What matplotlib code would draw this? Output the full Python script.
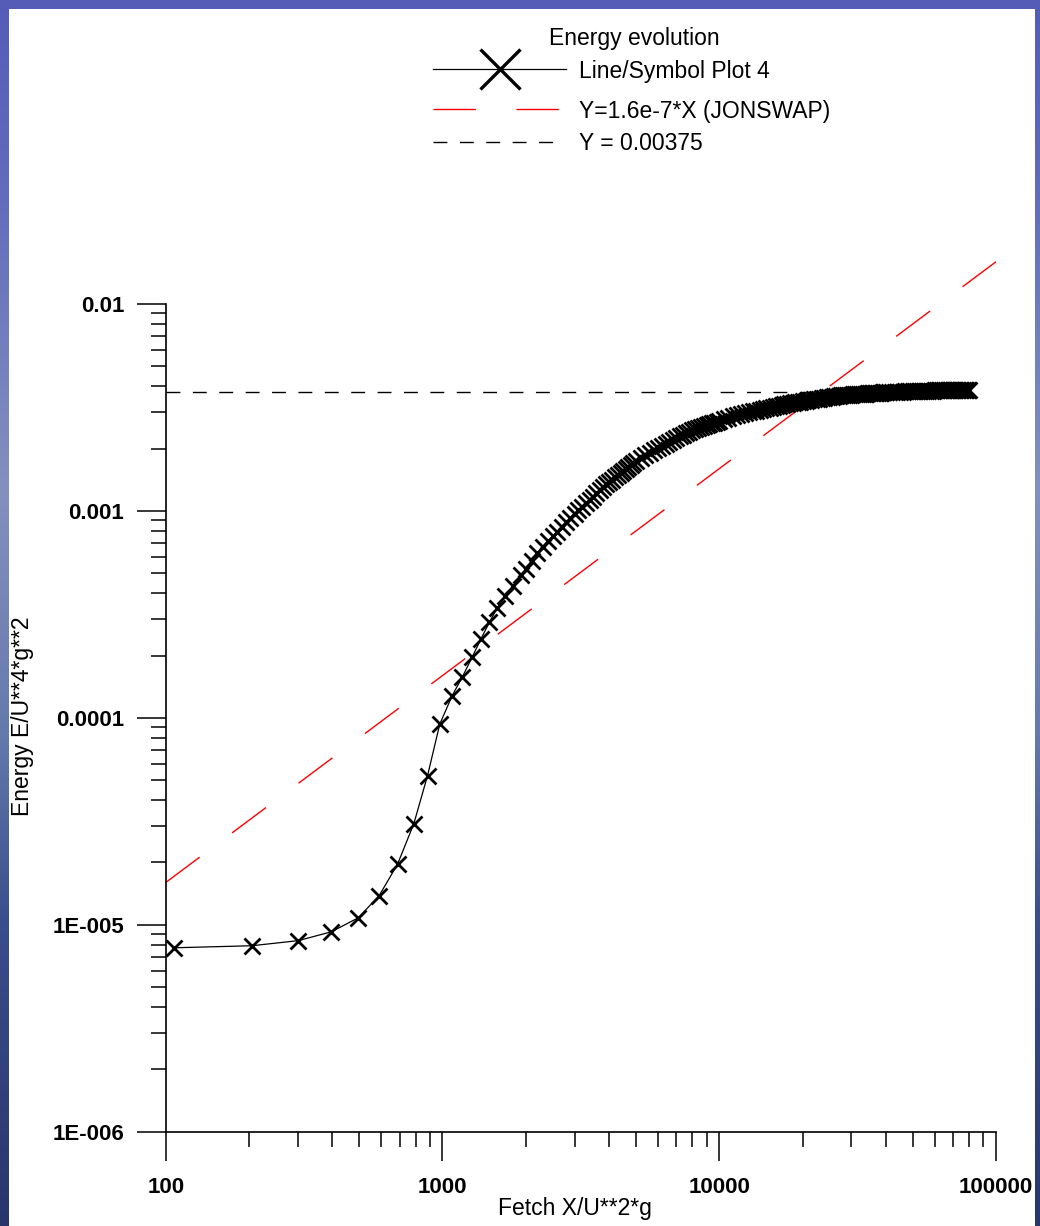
import numpy as np
import matplotlib
matplotlib.use("Agg")
import matplotlib.pyplot as plt
from matplotlib.lines import Line2D
from matplotlib.patches import Rectangle
from matplotlib.ticker import FixedLocator, LogLocator, NullFormatter

plt.rcParams['font.family'] = ['Liberation Sans', 'DejaVu Sans']

# ---- data: dimensionless energy vs dimensionless fetch ----
fetch_growth = [107, 205, 301, 397, 496, 590, 688, 788, 883, 978, 1084, 1181,
                1279, 1378, 1478, 1580, 1688, 1798, 1929]
energy_growth = [7.74e-6, 7.92e-6, 8.38e-6, 9.25e-6, 1.08e-5, 1.38e-5, 1.96e-5,
                 3.08e-5, 5.25e-5, 9.33e-5, 1.28e-4, 1.58e-4, 1.96e-4, 2.41e-4,
                 2.90e-4, 3.41e-4, 3.88e-4, 4.35e-4, 4.91e-4]

fetch_transition = [2000, 2100, 2200, 2300, 2400, 2500, 2600, 2700, 2800, 2900,
                    3000, 3100, 3200, 3300, 3400, 3500, 3600, 3700, 3800, 3900,
                    4000, 4100, 4200, 4300, 4400, 4500, 4600, 4700, 4800, 4900,
                    5000]
energy_transition = [5.25e-4, 5.74e-4, 6.26e-4, 6.72e-4, 7.12e-4, 7.53e-4, 7.95e-4,
                     8.37e-4, 8.80e-4, 9.23e-4, 9.66e-4, 1.007e-3, 1.047e-3,
                     1.089e-3, 1.131e-3, 1.173e-3, 1.215e-3, 1.258e-3, 1.301e-3,
                     1.344e-3, 1.381e-3, 1.417e-3, 1.453e-3, 1.489e-3, 1.525e-3,
                     1.561e-3, 1.597e-3, 1.633e-3, 1.670e-3, 1.706e-3, 1.743e-3]

fetch_bend = [5200, 5400, 5600, 5800, 6000, 6200, 6400, 6600, 6800, 7000, 7200,
              7400, 7600, 7800, 8000, 8200, 8400, 8600, 8800, 9000, 9200, 9400,
              9600, 9800, 10000]
energy_bend = [1.811e-3, 1.862e-3, 1.913e-3, 1.964e-3, 2.015e-3, 2.065e-3, 2.115e-3,
               2.164e-3, 2.213e-3, 2.254e-3, 2.294e-3, 2.334e-3, 2.373e-3, 2.412e-3,
               2.451e-3, 2.489e-3, 2.520e-3, 2.545e-3, 2.572e-3, 2.597e-3, 2.623e-3,
               2.648e-3, 2.672e-3, 2.697e-3, 2.721e-3]

fetch_approach = [10400, 10800, 11200, 11600, 12000, 12400, 12800, 13200, 13600,
                  14000, 14400, 14800, 15200, 15600, 16000, 16400, 16800, 17200,
                  17600, 18000, 18400, 18800, 19200, 19600, 20000]
energy_approach = [2.768e-3, 2.814e-3, 2.860e-3, 2.904e-3, 2.944e-3, 2.972e-3,
                   3.000e-3, 3.027e-3, 3.054e-3, 3.080e-3, 3.105e-3, 3.130e-3,
                   3.155e-3, 3.179e-3, 3.202e-3, 3.225e-3, 3.247e-3, 3.270e-3,
                   3.292e-3, 3.313e-3, 3.329e-3, 3.344e-3, 3.359e-3, 3.373e-3,
                   3.387e-3]

fetch_plateau = [20500, 21000, 21500, 22000, 22500, 23000, 23500, 24000, 24500,
                 25000, 25500, 26000, 26500, 27000, 27500, 28000, 28500, 29000,
                 29500, 30000, 30500, 31000, 31500, 32000, 32500, 33000, 33500,
                 34000, 34500, 35000, 35500, 36000, 36500, 37000, 37500, 38000,
                 38500, 39000, 39500, 40000, 41000, 42000, 43000, 44000, 45000,
                 46000, 47000, 48000, 49000, 50000, 51000, 52000, 53000, 54000,
                 55000, 56000, 57000, 58000, 59000, 60000, 61000, 62000, 63000,
                 64000, 65000, 66000, 67000, 68000, 69000, 70000, 71000, 72000,
                 73000, 74000, 75000, 76000, 77000, 78000, 79000, 80000]
energy_plateau = [3.405e-3, 3.421e-3, 3.439e-3, 3.456e-3, 3.473e-3, 3.489e-3,
                  3.504e-3, 3.520e-3, 3.535e-3, 3.550e-3, 3.565e-3, 3.580e-3,
                  3.594e-3, 3.608e-3, 3.617e-3, 3.624e-3, 3.630e-3, 3.636e-3,
                  3.642e-3, 3.648e-3, 3.654e-3, 3.660e-3, 3.664e-3, 3.670e-3,
                  3.676e-3, 3.681e-3, 3.686e-3, 3.691e-3, 3.696e-3, 3.701e-3,
                  3.706e-3, 3.711e-3, 3.715e-3, 3.721e-3, 3.725e-3, 3.730e-3,
                  3.734e-3, 3.739e-3, 3.744e-3, 3.748e-3, 3.757e-3, 3.762e-3,
                  3.765e-3, 3.770e-3, 3.773e-3, 3.776e-3, 3.780e-3, 3.783e-3,
                  3.787e-3, 3.790e-3, 3.794e-3, 3.797e-3, 3.801e-3, 3.803e-3,
                  3.807e-3, 3.809e-3, 3.813e-3, 3.815e-3, 3.818e-3, 3.822e-3,
                  3.824e-3, 3.827e-3, 3.828e-3, 3.829e-3, 3.830e-3, 3.831e-3,
                  3.832e-3, 3.833e-3, 3.834e-3, 3.835e-3, 3.836e-3, 3.837e-3,
                  3.838e-3, 3.839e-3, 3.840e-3, 3.841e-3, 3.842e-3, 3.843e-3,
                  3.844e-3, 3.845e-3]

# reference lines
jonswap_coef = 1.6e-7
jonswap_fetch = [100, 100000]
full_dev_level = 0.00375
full_dev_fetch = [100, 88000]

# axis ticks
xtick_values = [100, 1000, 10000, 100000]
xtick_labels = ["100", "1000", "10000", "100000"]
ytick_values = [1e-6, 1e-5, 1e-4, 1e-3, 1e-2]
ytick_labels = ["1E-006", "1E-005", "0.0001", "0.001", "0.01"]

legend_title = "Energy evolution"
legend_labels = ["Line/Symbol Plot 4", "Y=1.6e-7*X (JONSWAP)", "Y = 0.00375"]

fetch = np.array(fetch_growth + fetch_transition + fetch_bend + fetch_approach + fetch_plateau, float)
energy = np.array(energy_growth + energy_transition + energy_bend + energy_approach + energy_plateau, float)

# line styles
RED_DASH = (30.5, 29.2)
BLACK_DASH = (10, 9)

# ---- figure ----
W, H = 1040, 1226
fig = plt.figure(figsize=(W / 100, H / 100), dpi=100)


def fx(px):
    return px / W


def fy(py):
    return 1 - py / H


# blue slide background with a white panel
bg = fig.add_axes([0, 0, 1, 1], zorder=-10)
bg.set_axis_off()
stops_y = np.array([0.0, 0.15, 0.4, 0.6, 0.75, 1.0])
stops_c = np.array([[84, 92, 184], [96, 108, 188], [132, 144, 190],
                    [100, 122, 172], [58, 78, 140], [40, 54, 108]]) / 255.0
yy = np.linspace(0, 1, 400)
grad = np.stack([np.interp(yy, stops_y, stops_c[:, k]) for k in range(3)], axis=-1)
bg.imshow(grad[:, None, :], aspect='auto', extent=[0, 1, 1, 0])
bg.set_xlim(0, 1)
bg.set_ylim(1, 0)
bg.add_patch(Rectangle((9 / W, 9 / H), (1035 - 9) / W, 1 - 9 / H,
                       facecolor='white', edgecolor='none'))

ax = fig.add_axes([fx(165.7), fy(1131.7), fx(996) - fx(165.7), fy(304) - fy(1131.7)])
ax.patch.set_alpha(0)
ax.set_xscale('log')
ax.set_yscale('log')
ax.set_xlim(100, 1e5)
ax.set_ylim(1e-6, 1e-2)

jx = np.array(jonswap_fetch, float)
ax.plot(jx, jonswap_coef * jx, color='#ff0000', lw=1.0, dashes=RED_DASH,
        clip_on=False, zorder=2)
ax.plot(full_dev_fetch, [full_dev_level] * 2, color='black', lw=1.0,
        dashes=BLACK_DASH, zorder=3)
ax.plot(fetch, energy, color='black', lw=0.9, marker='x', ms=11.5, mew=2.0,
        zorder=4)

for side in ('top', 'right'):
    ax.spines[side].set_visible(False)
for side in ('left', 'bottom'):
    ax.spines[side].set_linewidth(1.2)

ax.xaxis.set_major_locator(FixedLocator(xtick_values))
ax.set_xticklabels(xtick_labels)
ax.yaxis.set_major_locator(FixedLocator(ytick_values))
ax.set_yticklabels(ytick_labels)
for axis in (ax.xaxis, ax.yaxis):
    axis.set_minor_locator(LogLocator(base=10, subs=range(2, 10)))
    axis.set_minor_formatter(NullFormatter())

ax.tick_params(which='major', direction='out', length=20.9, width=1.1,
               labelsize=16, color='black')
ax.tick_params(which='minor', direction='out', length=10.8, width=1.1,
               color='black')
ax.tick_params(axis='x', which='major', pad=12)
ax.tick_params(axis='y', which='major', pad=9)
for lab in ax.get_xticklabels() + ax.get_yticklabels():
    lab.set_fontweight('bold')

# axis titles
fig.text(fx(575), fy(1215), "Fetch X/U**2*g", ha='center', va='baseline',
         fontsize=16.5)
fig.text(fx(23), fy(716), "Energy E/U**4*g**2", ha='center', va='center',
         rotation=90, fontsize=16.5)

# legend block
fig.text(fx(634), fy(44.5), legend_title, ha='center', va='baseline', fontsize=16.5)
fig.add_artist(Line2D([fx(433), fx(566)], [fy(69.3)] * 2, color='black', lw=0.9))
fig.add_artist(Line2D([fx(500)], [fy(69.3)], color='black', marker='x',
                      ms=28.5, mew=2.4, linestyle='none'))
fig.add_artist(Line2D([fx(433), fx(560)], [fy(109.3)] * 2, color='#ff0000',
                      lw=1.0, dashes=RED_DASH))
fig.add_artist(Line2D([fx(433), fx(559)], [fy(141.7)] * 2, color='black',
                      lw=1.0, dashes=BLACK_DASH))
for label, base in zip(legend_labels, [78, 118, 150]):
    fig.text(fx(579), fy(base), label, ha='left', va='baseline', fontsize=16.5)

fig.savefig("out.png", dpi=100)
